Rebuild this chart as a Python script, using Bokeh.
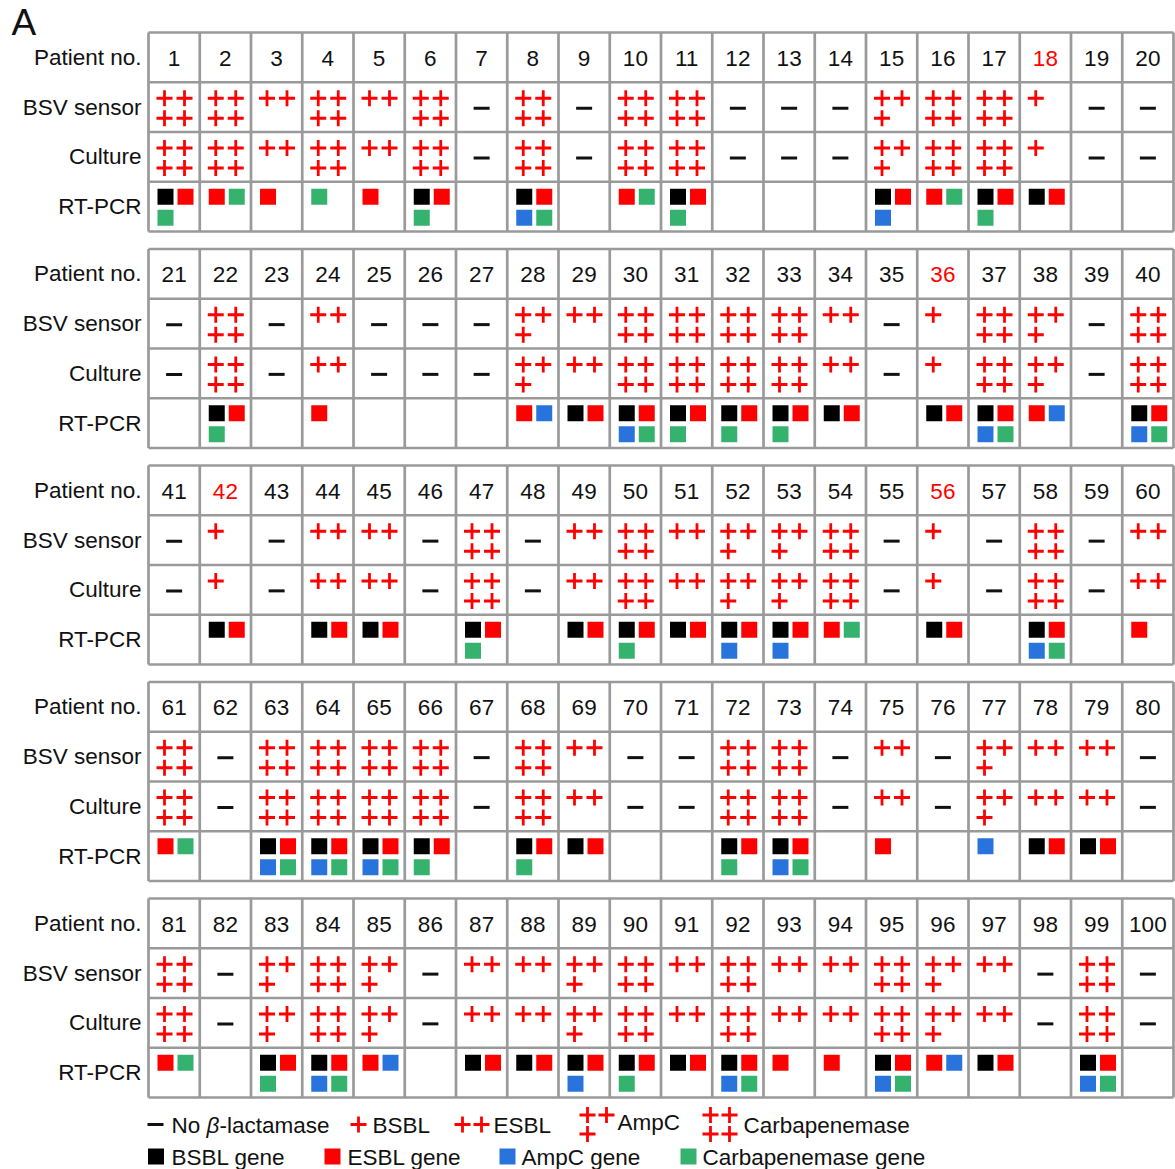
from bokeh.plotting import figure
from bokeh.models import Range1d
from bokeh.core.properties import value
from bokeh.embed import file_html
from bokeh.resources import INLINE

# ---------------- data ----------------
patient_no = list(range(1, 101))
red_patient_no = [18, 36, 42, 56]
row_labels = ["Patient no.", "BSV sensor", "Culture", "RT-PCR"]

# 0 = No beta-lactamase, 1 = BSBL, 2 = ESBL, 3 = AmpC, 4 = Carbapenemase
bsv_sensor = [
    4, 4, 2, 4, 2, 4, 0, 4, 0, 4, 4, 0, 0, 0, 3, 4, 4, 1, 0, 0,
    0, 4, 0, 2, 0, 0, 0, 3, 2, 4, 4, 4, 4, 2, 0, 1, 4, 3, 0, 4,
    0, 1, 0, 2, 2, 0, 4, 0, 2, 4, 2, 3, 3, 4, 0, 1, 0, 4, 0, 2,
    4, 0, 4, 4, 4, 4, 0, 4, 2, 0, 0, 4, 4, 0, 2, 0, 3, 2, 2, 0,
    4, 0, 3, 4, 3, 0, 2, 2, 3, 4, 2, 4, 2, 2, 4, 3, 2, 0, 4, 0,
]
culture = [
    4, 4, 2, 4, 2, 4, 0, 4, 0, 4, 4, 0, 0, 0, 3, 4, 4, 1, 0, 0,
    0, 4, 0, 2, 0, 0, 0, 3, 2, 4, 4, 4, 4, 2, 0, 1, 4, 3, 0, 4,
    0, 1, 0, 2, 2, 0, 4, 0, 2, 4, 2, 3, 3, 4, 0, 1, 0, 4, 0, 2,
    4, 0, 4, 4, 4, 4, 0, 4, 2, 0, 0, 4, 4, 0, 2, 0, 3, 2, 2, 0,
    4, 0, 3, 4, 3, 0, 2, 2, 3, 4, 2, 4, 2, 2, 4, 3, 2, 0, 4, 0,
]
# genes detected: B = BSBL, E = ESBL, A = AmpC, C = Carbapenemase
rt_pcr = [
    "BEC", "EC", "E", "C", "E", "BEC", "", "BEAC", "", "EC",
    "BEC", "", "", "", "BEA", "EC", "BEC", "BE", "", "",
    "", "BEC", "", "E", "", "", "", "EA", "BE", "BEAC",
    "BEC", "BEC", "BEC", "BE", "", "BE", "BEAC", "EA", "", "BEAC",
    "", "BE", "", "BE", "BE", "", "BEC", "", "BE", "BEC",
    "BE", "BEA", "BEA", "EC", "", "BE", "", "BEAC", "", "E",
    "EC", "", "BEAC", "BEAC", "BEAC", "BEC", "", "BEC", "BE", "",
    "", "BEC", "BEAC", "", "E", "", "A", "BE", "BE", "",
    "EC", "", "BEC", "BEAC", "EA", "", "BE", "BE", "BEA", "BEC",
    "BE", "BEAC", "E", "E", "BEAC", "EA", "BE", "", "BEAC", "",
]
phenotype_labels = ["No ", "β", "-lactamase", "BSBL", "ESBL", "AmpC", "Carbapenemase"]
gene_codes = ["B", "E", "A", "C"]
gene_labels = ["BSBL gene", "ESBL gene", "AmpC gene", "Carbapenemase gene"]
gene_colors = ["#000000", "#ff0000", "#2874dc", "#34b26e"]

# ---------------- layout constants (reference pixel space) ----------------
FONT = value("Liberation Sans")
FS = "22.5px"
X0, CW, RH = 148.0, 51.25, 49.75
TOP0, BLOCK_STEP, PER_BLOCK = 32.0, 216.5, 20
PLUS_DX, PLUS_DY = [16.0, 36.0], [16.0, 36.0]
SQ_DX, SQ_DY = [17.0, 37.0], [15.0, 36.0]
PLUS_SIZE, PLUS_W = 16, 2.8
RED = "#ff0000"
INK = "#111111"
GRID = "#9a9a9a"
PATTERNS = {0: [], 1: [(0, 0)], 2: [(0, 0), (1, 0)],
            3: [(0, 0), (1, 0), (0, 1)], 4: [(0, 0), (1, 0), (0, 1), (1, 1)]}

p = figure(width=1175, height=1169, output_backend="svg", toolbar_location=None,
           x_range=Range1d(0, 1175), y_range=Range1d(1169, 0), min_border=0)
p.axis.visible = False
p.grid.visible = False
p.outline_line_color = None
p.background_fill_color = "white"


def cell(i, row):
    b, c = divmod(i, PER_BLOCK)
    return X0 + c * CW, TOP0 + b * BLOCK_STEP + row * RH


n_blocks = len(patient_no) // PER_BLOCK

# grid lines
hx0, hx1, hy = [], [], []
vx, vy0, vy1 = [], [], []
for b in range(n_blocks):
    top = TOP0 + b * BLOCK_STEP
    for r in range(len(row_labels) + 1):
        hx0.append(X0); hx1.append(X0 + PER_BLOCK * CW); hy.append(top + r * RH)
    for c in range(PER_BLOCK + 1):
        vx.append(X0 + c * CW); vy0.append(top); vy1.append(top + len(row_labels) * RH)
p.segment(x0=hx0, y0=hy, x1=hx1, y1=hy, line_color=GRID, line_width=2.7)
p.segment(x0=vx, y0=vy0, x1=vx, y1=vy1, line_color=GRID, line_width=2.7)

# row labels
lx, ly, lt = [], [], []
for b in range(n_blocks):
    for r, lab in enumerate(row_labels):
        lx.append(X0 - 7); ly.append(TOP0 + b * BLOCK_STEP + r * RH + RH / 2); lt.append(lab)
p.text(x=lx, y=ly, text=lt, text_font=FONT, text_font_size=FS, text_align="right",
       text_baseline="middle", text_color=INK)

# patient numbers
nx, ny, nt, nc = [], [], [], []
for i, pn in enumerate(patient_no):
    L, T = cell(i, 0)
    nx.append(L + CW / 2); ny.append(T + RH / 2 + 1); nt.append(str(pn))
    nc.append(RED if pn in red_patient_no else INK)
p.text(x=nx, y=ny, text=nt, text_color=nc, text_font=FONT, text_font_size=FS,
       text_align="center", text_baseline="middle")

# phenotype symbols (BSV sensor row 1, Culture row 2)
px, py, dx, dy = [], [], [], []
for row, series in [(1, bsv_sensor), (2, culture)]:
    for i, v in enumerate(series):
        L, T = cell(i, row)
        if v == 0:
            dx.append(L + CW / 2); dy.append(T + RH / 2 + 1)
        for (cx, cy) in PATTERNS[v]:
            px.append(L + PLUS_DX[cx]); py.append(T + PLUS_DY[cy])
p.scatter(x=px, y=py, marker="cross", size=PLUS_SIZE, line_color=RED, line_width=PLUS_W)
p.scatter(x=dx, y=dy, marker="dash", size=16, line_color=INK, line_width=3)

# RT-PCR gene squares
sx, sy, sc = [], [], []
for i, genes in enumerate(rt_pcr):
    L, T = cell(i, 3)
    for k, g in enumerate(genes):
        sx.append(L + SQ_DX[k % 2]); sy.append(T + SQ_DY[k // 2])
        sc.append(gene_colors[gene_codes.index(g)])
p.scatter(x=sx, y=sy, marker="square", size=16, fill_color=sc, line_color=None)

# panel letter
p.text(x=[11], y=[22], text=["A"], text_font=FONT, text_font_size="37px",
       text_baseline="middle", text_color=INK)

# ---------------- legend ----------------
LY1, LY2 = 1124, 1156
LEG_AMP_DY = [-9.5, 9.5]
p.scatter(x=[155], y=[LY1], marker="dash", size=16, line_color=INK, line_width=3)
lpx, lpy = [], []
for sym_x, v in [(358, 1), (462, 2), (587, 3), (710, 4)]:
    for (cx, cy) in PATTERNS[v]:
        yy = LY1 if v < 3 else LY1 + LEG_AMP_DY[cy]
        lpx.append(sym_x + cx * 19); lpy.append(yy)
p.scatter(x=lpx, y=lpy, marker="cross", size=PLUS_SIZE, line_color=RED, line_width=PLUS_W)
p.text(x=[171, 372, 493, 617, 743], y=[LY1 + 1, LY1 + 1, LY1 + 1, LY1 - 2, LY1 + 1],
       text=[phenotype_labels[0], phenotype_labels[3], phenotype_labels[4],
             phenotype_labels[5], phenotype_labels[6]],
       text_font=FONT, text_font_size=FS, text_baseline="middle", text_color=INK)
p.text(x=[206], y=[LY1 + 1], text=[phenotype_labels[1]], text_font=FONT,
       text_font_size=FS, text_font_style="italic", text_baseline="middle",
       text_color=INK)
p.text(x=[219], y=[LY1 + 1], text=[phenotype_labels[2]], text_font=FONT,
       text_font_size=FS, text_baseline="middle", text_color=INK)
p.scatter(x=[155.5, 332, 507, 688], y=[LY2] * 4, marker="square", size=16,
          fill_color=gene_colors, line_color=None)
p.text(x=[171, 347, 521, 702], y=[LY2 + 1] * 4, text=gene_labels, text_font=FONT,
       text_font_size=FS, text_baseline="middle", text_color=INK)

open("out.html", "w").write(file_html(p, INLINE))
